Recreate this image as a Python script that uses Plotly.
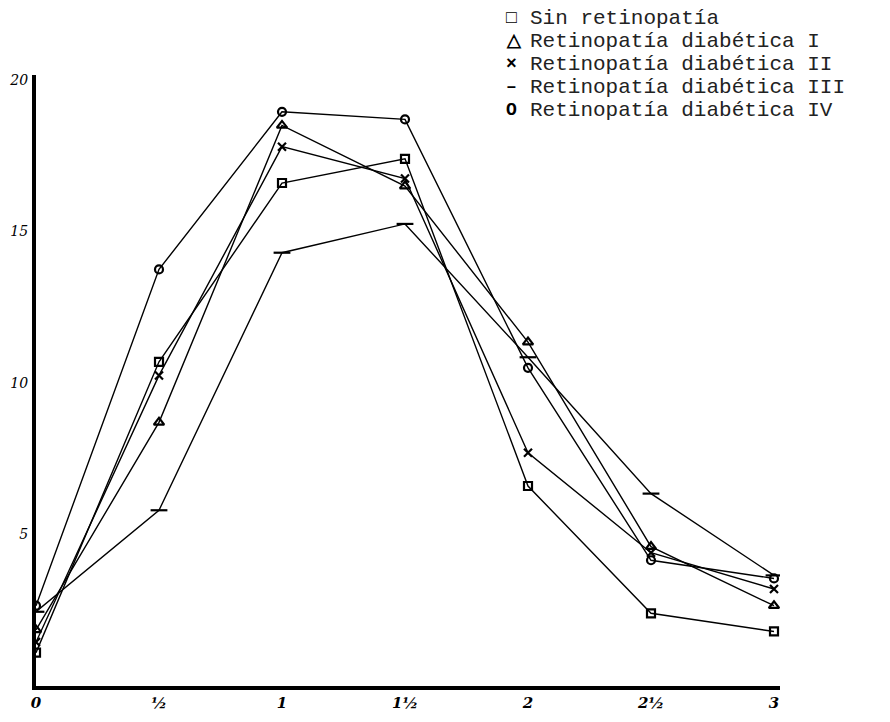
import plotly.graph_objects as go

# ---- data ----
x_vals = [0, 0.5, 1, 1.5, 2, 2.5, 3]
x_ticktext = ["0", "½", "1", "1½", "2", "2½", "3"]
y_tickvals = [5, 10, 15, 20]
y_ticktext = ["5", "10", "15", "20"]

series_names = [
    "Sin retinopatía",
    "Retinopatía diabética I",
    "Retinopatía diabética II",
    "Retinopatía diabética III",
    "Retinopatía diabética IV",
]
sin_retinopatia = [1.1, 10.7, 16.6, 17.4, 6.6, 2.4, 1.8]
retino_i = [1.85, 8.7, 18.5, 16.5, 11.35, 4.6, 2.65]
retino_ii = [1.45, 10.25, 17.8, 16.75, 7.7, 4.4, 3.2]
retino_iii = [2.45, 5.8, 14.3, 15.25, 10.85, 6.35, 3.65]
retino_iv = [2.65, 13.75, 18.95, 18.7, 10.5, 4.15, 3.55]

series_values = [sin_retinopatia, retino_i, retino_ii, retino_iii, retino_iv]
marker_symbols = ["square-open", "triangle-up-open", "x-thin-open", "line-ew-open", "circle-open"]
marker_sizes = [8, 9, 8, 12, 8]
legend_glyphs = ["□", "△", "×", "–", "O"]

# ---- figure ----
fig = go.Figure()
for name, vals, sym, size in zip(series_names, series_values, marker_symbols, marker_sizes):
    fig.add_trace(go.Scatter(
        x=x_vals, y=vals, name=name, mode="lines+markers",
        line=dict(color="black", width=1.4),
        marker=dict(symbol=sym, size=size, color="black",
                    line=dict(color="black", width=2.2)),
        showlegend=False,
    ))

# page has an 8px body margin: size the figure so it lands where the reference is
OFF = 8
W, H = 890 - OFF, 722 - OFF
L, T = 36 - OFF, 75 - OFF
R = W - (780 - OFF)
B = H - (686 - OFF)
pw, ph = W - L - R, H - T - B

def px_x(px):
    return (px - OFF - L) / pw

def px_y(py):
    return (H + OFF - B - py) / ph

legend_rows = [18, 41, 64, 87, 110]
annotations = []
for glyph, name, row in zip(legend_glyphs, series_names, legend_rows):
    annotations.append(dict(
        x=px_x(504), y=px_y(row), xref="paper", yref="paper",
        text="<b>" + glyph + "</b>", showarrow=False, xanchor="left", yanchor="middle",
        font=dict(family="Liberation Mono", size=18, color="black"),
    ))
    annotations.append(dict(
        x=px_x(529), y=px_y(row), xref="paper", yref="paper",
        text=name, showarrow=False, xanchor="left", yanchor="middle",
        height=22, borderpad=0,
        font=dict(family="Liberation Mono", size=21, color="#222"),
    ))

fig.update_layout(
    width=W, height=H,
    margin=dict(l=L, r=R, t=T, b=B, pad=0),
    paper_bgcolor="white", plot_bgcolor="white",
    showlegend=False,
    annotations=annotations,
    xaxis=dict(
        range=[0, 3 * pw / 738], showgrid=False, zeroline=False, automargin=False,
        showline=True, linecolor="black", linewidth=4,
        tickmode="array", tickvals=x_vals,
        ticktext=["<i><b>" + t + "</b></i>" for t in x_ticktext],
        ticks="", tickfont=dict(family="DejaVu Serif", size=15, color="black"),
    ),
    yaxis=dict(
        range=[0, ph / 30.3], showgrid=False, zeroline=False, automargin=False,
        showline=True, linecolor="black", linewidth=4,
        tickmode="array", tickvals=y_tickvals,
        ticktext=["<i>" + t + "</i>" for t in y_ticktext],
        ticks="", ticklabelstandoff=1,
        tickfont=dict(family="DejaVu Serif", size=14, color="black"),
    ),
)

fig.write_html("out.html")
